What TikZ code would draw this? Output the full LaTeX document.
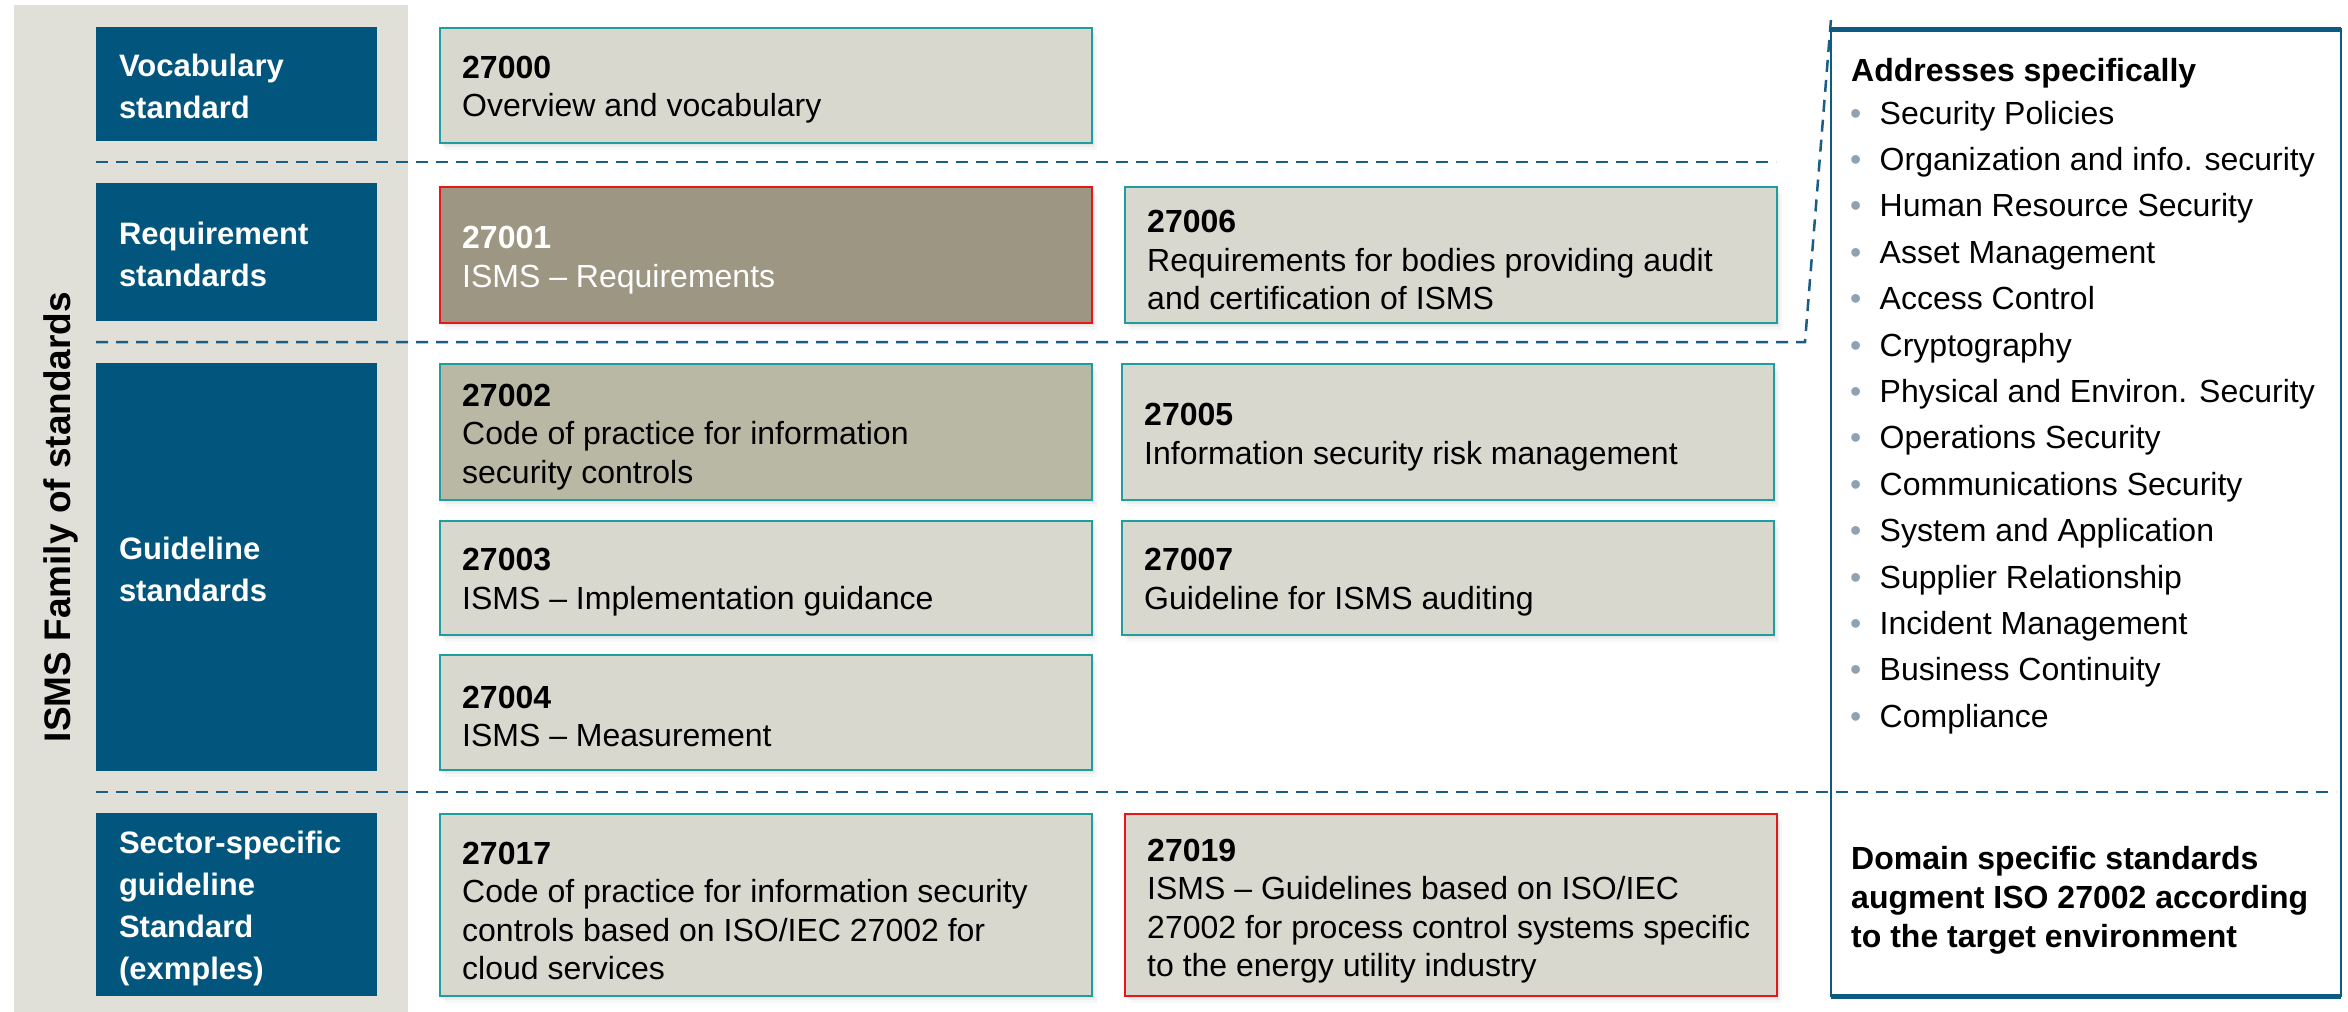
\documentclass[tikz,border=0pt]{standalone}
\usepackage{fontspec}
\setmainfont{Liberation Sans}
\usetikzlibrary{shadows}
\definecolor{panel}{HTML}{E0E0D9}
\definecolor{navy}{HTML}{02557D}
\definecolor{beige}{HTML}{D8D8CE}
\definecolor{tealb}{HTML}{1E9E9E}
\definecolor{taupe}{HTML}{9D9682}
\definecolor{sage}{HTML}{B9B8A4}
\definecolor{redb}{HTML}{E8151B}
\definecolor{dashc}{HTML}{1A5E86}
\definecolor{rboxc}{HTML}{0D5B82}
\definecolor{bulc}{HTML}{8EA2B4}
\begin{document}
\begin{tikzpicture}[x=1pt,y=-1pt,
  stdbox/.style={draw=tealb, line width=2pt, fill=beige, inner sep=0pt,
    minimum width=652pt,
    drop shadow={shadow xshift=2pt, shadow yshift=-2pt, opacity=0.08},
    drop shadow={shadow xshift=3pt, shadow yshift=-4pt, opacity=0.08},
    drop shadow={shadow xshift=5pt, shadow yshift=-7pt, opacity=0.06}},
  boxtext/.style={anchor=west, align=left, inner sep=0pt,
    font=\fontsize{32}{38.4}\selectfont},
  lblbox/.style={fill=navy, inner sep=0pt, minimum width=281pt},
  lbltext/.style={anchor=west, align=left, inner sep=0pt, text=white,
    font=\bfseries\fontsize{31}{42}\selectfont},
  sepline/.style={dashc, line width=2.5pt, dash pattern=on 12pt off 8pt},
  listtext/.style={anchor=base west, inner sep=0pt, font=\fontsize{32}{38}\selectfont},
  boldtext/.style={anchor=base west, inner sep=0pt, font=\bfseries\fontsize{32}{38}\selectfont}
]
\useasboundingbox (0,0) rectangle (2348,1012);
\fill[white] (0,0) rectangle (2348,1012);
% left panel
\fill[panel] (14,5) rectangle (408,1012);
\node[rotate=90, anchor=base, inner sep=0pt, font=\bfseries\fontsize{37}{44}\selectfont] (fam) at (70,517) {ISMS Family of standards};

% left category labels
\node[lblbox, minimum height=114pt] (voc) at (236.5,84) {};
\node[lbltext] (voct) at ([xshift=23pt,yshift=-2pt]voc.west) {Vocabulary\\standard};
\node[lblbox, minimum height=138pt] (req) at (236.5,252) {};
\node[lbltext] (reqt) at ([xshift=23pt,yshift=-2pt]req.west) {Requirement\\standards};
\node[lblbox, minimum height=408pt] (gui) at (236.5,567) {};
\node[lbltext] (guit) at ([xshift=23pt,yshift=-2pt]gui.west) {Guideline\\standards};
\node[lblbox, minimum height=183pt] (sec) at (236.5,904.5) {};
\node[lbltext] (sect) at ([xshift=23pt,yshift=-4pt]sec.west) {Sector-specific\\guideline\\Standard\\(exmples)};

% dashed separators
\coordinate (s1a) at (96,162);  \coordinate (s1b) at (1776,162);
\coordinate (s2a) at (96,342);  \coordinate (s2b) at (1805,342); \coordinate (s2c) at (1831,19);
\coordinate (s3a) at (96,792);  \coordinate (s3b) at (2336,792);
\draw[sepline] (s1a) -- (s1b);
\draw[sepline] (s2a) -- (s2b) -- (s2c);
\draw[sepline] (s3a) -- (s3b);

% standard boxes
\node[stdbox, minimum height=115pt] (b27000) at (766,85.5) {};
\node[boxtext] (t27000) at ([xshift=23pt,yshift=-4pt]b27000.west) {\textbf{27000}\\Overview and vocabulary};

\node[stdbox, draw=redb, fill=taupe, minimum height=136pt] (b27001) at (766,255) {};
\node[boxtext, text=white] (t27001) at ([xshift=23pt,yshift=-5pt]b27001.west) {\textbf{27001}\\ISMS \textendash{} Requirements};

\node[stdbox, minimum height=136pt] (b27006) at (1451,255) {};
\node[boxtext] (t27006) at ([xshift=23pt,yshift=-5pt]b27006.west) {\textbf{27006}\\Requirements for bodies providing audit\\and certification of ISMS};

\node[stdbox, fill=sage, minimum height=136pt] (b27002) at (766,432) {};
\node[boxtext] (t27002) at ([xshift=23pt,yshift=-5pt]b27002.west) {\textbf{27002}\\Code of practice for information\\security controls};

\node[stdbox, minimum height=136pt] (b27005) at (1448,432) {};
\node[boxtext] (t27005) at ([xshift=23pt,yshift=-5pt]b27005.west) {\textbf{27005}\\Information security risk management};

\node[stdbox, minimum height=114pt] (b27003) at (766,578) {};
\node[boxtext] (t27003) at ([xshift=23pt,yshift=-4pt]b27003.west) {\textbf{27003}\\ISMS \textendash{} Implementation guidance};

\node[stdbox, minimum height=114pt] (b27007) at (1448,578) {};
\node[boxtext] (t27007) at ([xshift=23pt,yshift=-4pt]b27007.west) {\textbf{27007}\\Guideline for ISMS auditing};

\node[stdbox, minimum height=115pt] (b27004) at (766,712.5) {};
\node[boxtext] (t27004) at ([xshift=23pt,yshift=-4pt]b27004.west) {\textbf{27004}\\ISMS \textendash{} Measurement};

\node[stdbox, minimum height=182pt] (b27017) at (766,905) {};
\node[boxtext] (t27017) at ([xshift=23pt,yshift=-6pt]b27017.west) {\textbf{27017}\\Code of practice for information security\\controls based on ISO/IEC 27002 for\\cloud services};

\node[stdbox, draw=redb, minimum height=182pt] (b27019) at (1451,905) {};
\node[boxtext] (t27019) at ([xshift=23pt,yshift=-6pt]b27019.west) {\textbf{27019}\\ISMS \textendash{} Guidelines based on ISO/IEC\\27002 for process control systems specific\\to the energy utility industry};

% right box
\coordinate (rtl) at (1831,29); \coordinate (rtr) at (2341,29);
\coordinate (rbl) at (1831,996); \coordinate (rbr) at (2341,996);
\draw[rboxc, line width=2.5pt] (rtl) rectangle (rbr);
\draw[rboxc, line width=5pt] (rtl) -- (rtr);
\draw[rboxc, line width=5pt] (rbl) -- (rbr);

\node[boldtext] (addr) at (1851,81) {Addresses specifically};
\foreach \t [count=\i from 0] in {Security Policies, Organization and info. security, Human Resource Security, Asset Management, Access Control, Cryptography, Physical and Environ. Security, Operations Security, Communications Security, System and Application, Supplier Relationship, Incident Management, Business Continuity, Compliance} {
  \node[listtext, text=bulc] (bu\i) at (1850,124+46.4*\i) {\textbullet};
  \node[listtext] (it\i) at (1879.5,124+46.4*\i) {\t};
}
\node[boldtext] (dom1) at (1851,869.5) {Domain specific standards};
\node[boldtext] (dom2) at (1851,908.5) {augment ISO 27002 according};
\node[boldtext] (dom3) at (1851,947.5) {to the target environment};
\end{tikzpicture}
\end{document}
